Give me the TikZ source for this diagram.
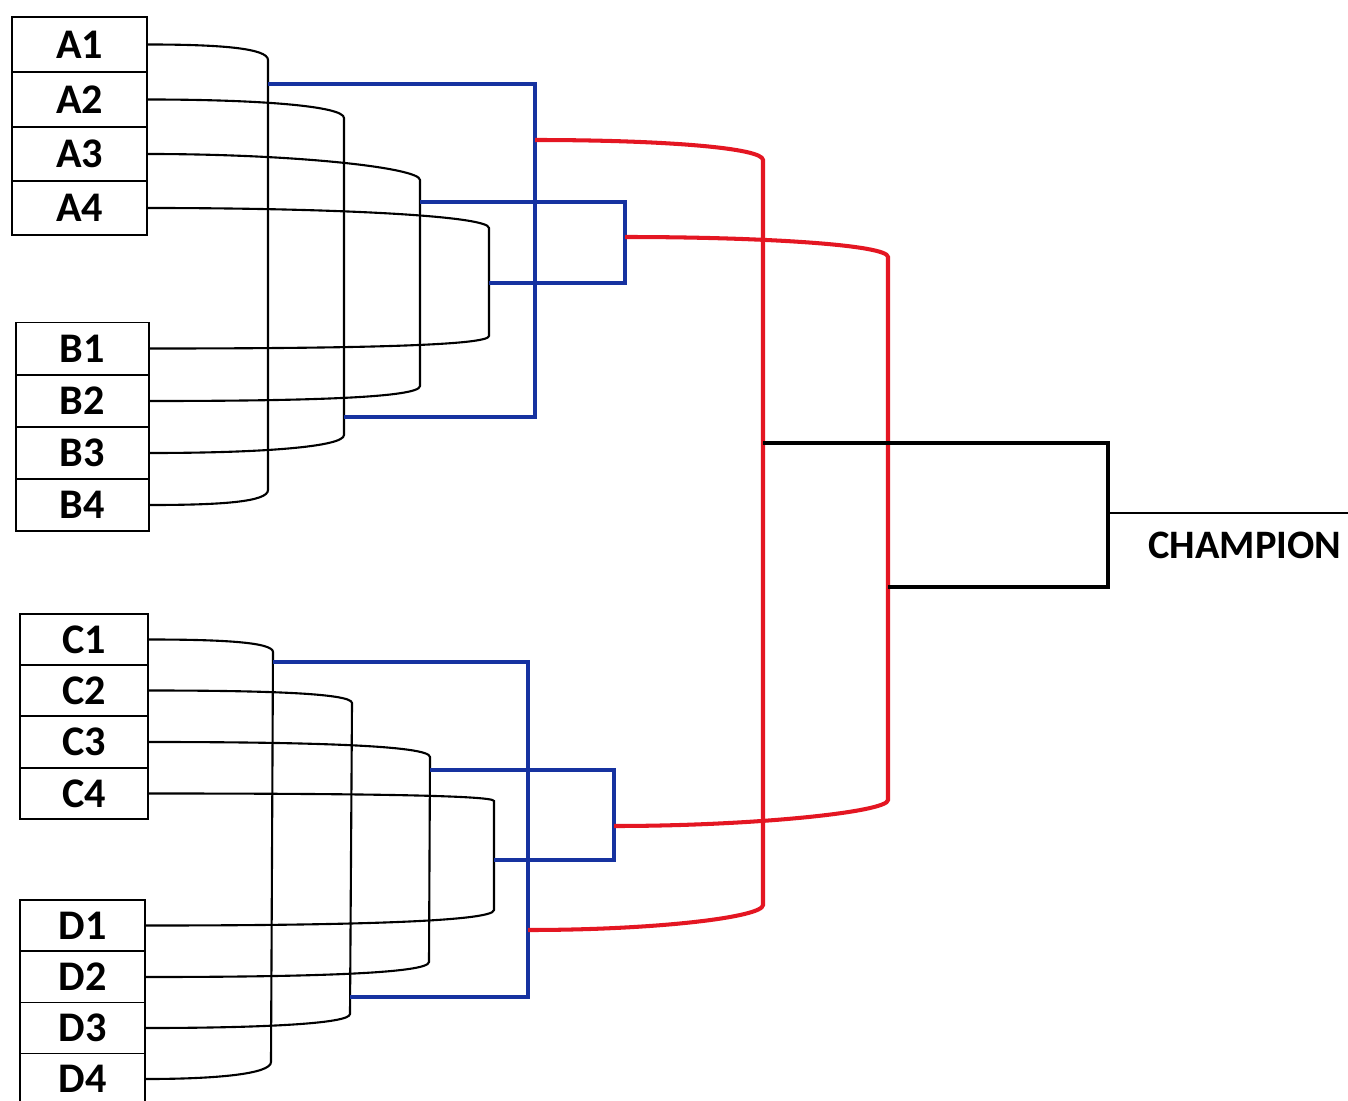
\documentclass[tikz,border=0pt]{standalone}
\usepackage{fontspec}
\newfontfamily\lblfont{Carlito}
\definecolor{brblue}{RGB}{22,50,160}
\definecolor{brred}{RGB}{228,22,34}
\begin{document}
\begin{tikzpicture}[x=0.02cm,y=-0.02cm,
  thinl/.style={line width=1.2pt,black},
  bluel/.style={line width=2.3pt,brblue},
  redl/.style={line width=2.3pt,brred},
  finl/.style={line width=2.8pt,black},
  team/.style={draw,line width=1.1pt,inner sep=0pt,font=\lblfont\bfseries\fontsize{24}{26}\selectfont}]
\useasboundingbox[fill=white] (0,0) rectangle (1348,1101);
% team boxes
\foreach \n/\y in {1/44.5,2/99.5,3/154,4/208}
  \node[team,minimum width=2.7cm,minimum height=1.09cm] (A\n) at (79.5,\y) {A\n};
\foreach \n/\y in {1/348.5,2/401,3/453,4/505}
  \node[team,minimum width=2.66cm,minimum height=1.04cm] (B\n) at (82.5,\y) {B\n};
\foreach \n/\y in {1/639.5,2/690.5,3/742,4/793.5}
  \node[team,minimum width=2.56cm,minimum height=1.02cm] (C\n) at (84,\y) {C\n};
\foreach \n/\y in {1/925.5,2/977,3/1028,4/1079}
  \node[team,minimum width=2.5cm,minimum height=1.02cm] (D\n) at (82.5,\y) {D\n};
% junction points
\coordinate (r1a) at (268,84);
\coordinate (r1b) at (344,417);
\coordinate (r1c) at (420,202);
\coordinate (r1d) at (489,283);
\coordinate (r1e) at (273,662);
\coordinate (r1f) at (350,997);
\coordinate (r1g) at (430,770);
\coordinate (r1h) at (494,860);
\coordinate (r2a) at (535,140);
\coordinate (r2b) at (625,237);
\coordinate (r2c) at (528,930);
\coordinate (r2d) at (614,826);
\coordinate (r3a) at (763,443);
\coordinate (r3b) at (888,587);
\coordinate (fin) at (1108,513);
\coordinate (champ) at (1348,513);
% first round (black)
\draw[thinl] (A1.east) .. controls +(70,0) and +(0,-12) .. (268,60) -- (268,490) .. controls +(0,12) and +(70,0) .. (B4.east);
\draw[thinl] (A2.east) .. controls +(110,0) and +(0,-12) .. (344,118) -- (344,435) .. controls +(0,12) and +(110,0) .. (B3.east);
\draw[thinl] (A3.east) .. controls +(150,0) and +(0,-12) .. (420,180) -- (420,386) .. controls +(0,12) and +(150,0) .. (B2.east);
\draw[thinl] (A4.east) .. controls +(190,0) and +(0,-12) .. (489,228) -- (489,336) .. controls +(0,10) and +(190,0) .. (B1.east);
\draw[thinl] (C1.east) .. controls +(70,0) and +(0,-10) .. (273,652) -- (271,1062) .. controls +(0,12) and +(70,0) .. (D4.east);
\draw[thinl] (C2.east) .. controls +(110,0) and +(0,-10) .. (352,703) -- (350,1014) .. controls +(0,10) and +(110,0) .. (D3.east);
\draw[thinl] (C3.east) .. controls +(150,0) and +(0,-12) .. (430,757) -- (429,962) .. controls +(0,12) and +(150,0) .. (D2.east);
\draw[thinl] (C4.east) .. controls +(190,0) and +(0,-6) .. (494,801) -- (494,910) .. controls +(0,12) and +(190,0) .. (D1.east);
% second round (blue)
\draw[bluel] (r1a) -| (r2a) |- (r1b);
\draw[bluel] (r1c) -| (r2b) |- (r1d);
\draw[bluel] (r1e) -| (r2c) |- (r1f);
\draw[bluel] (r1g) -| (r2d) |- (r1h);
% semifinals (red)
\draw[redl] (r2a) .. controls +(130,0) and +(0,-12) .. (763,160) -- (763,905) .. controls +(0,12) and +(130,0) .. (r2c);
\draw[redl] (r2b) .. controls +(140,0) and +(0,-12) .. (888,257) -- (888,800) .. controls +(0,12) and +(140,0) .. (r2d);
% final
\draw[finl] (r3a) -| (fin) |- (r3b);
\draw[line width=0.8pt] (fin) -- (champ);
\node[font=\lblfont\bfseries\fontsize{23}{25}\selectfont] (ch) at (1245,545) {CHAMPION};
\end{tikzpicture}
\end{document}
